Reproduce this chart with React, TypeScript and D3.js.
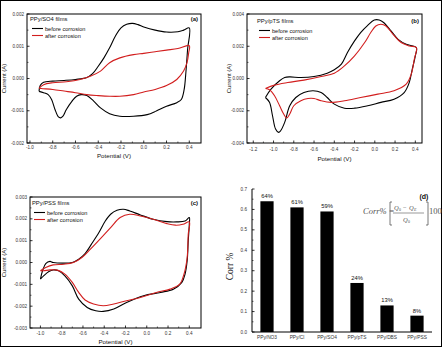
import React from "react";
import * as d3 from "d3";

type P = [number, number];

// ---------- data (potential V, current mA) ----------
const beforeA: P[] = [[-0.92,-0.40],[-0.91,-0.22],[-0.88,-0.12],[-0.8,-0.08],[-0.7,-0.06],[-0.6,-0.03],[-0.5,0.03],[-0.45,0.15],[-0.4,0.38],[-0.35,0.64],[-0.3,0.95],[-0.25,1.31],[-0.2,1.57],[-0.15,1.68],[-0.1,1.71],[-0.05,1.67],[0,1.6],[0.1,1.5],[0.2,1.44],[0.3,1.45],[0.35,1.5],[0.4,1.57],[0.385,0.9],[0.37,0.18],[0.355,-0.34],[0.33,-0.65],[0.29,-0.75],[0.2,-0.86],[0.11,-1.01],[0.03,-1.12],[-0.09,-1.17],[-0.21,-1.17],[-0.3,-1.09],[-0.38,-0.91],[-0.44,-0.7],[-0.5,-0.53],[-0.55,-0.5],[-0.59,-0.55],[-0.63,-0.7],[-0.68,-0.96],[-0.71,-1.17],[-0.73,-1.22],[-0.75,-1.19],[-0.78,-0.96],[-0.81,-0.65],[-0.84,-0.5],[-0.88,-0.44],[-0.92,-0.40]];
const afterA: P[] = [[-0.92,-0.3],[-0.88,-0.19],[-0.8,-0.13],[-0.68,-0.1],[-0.56,-0.03],[-0.47,0.07],[-0.38,0.23],[-0.3,0.49],[-0.21,0.64],[-0.09,0.74],[0,0.78],[0.1,0.83],[0.2,0.88],[0.3,0.93],[0.4,1.02],[0.395,0.8],[0.38,0.49],[0.35,0.23],[0.29,-0.03],[0.2,-0.22],[0.1,-0.34],[0,-0.42],[-0.09,-0.5],[-0.21,-0.55],[-0.3,-0.55],[-0.4,-0.53],[-0.5,-0.5],[-0.6,-0.44],[-0.7,-0.39],[-0.8,-0.34],[-0.9,-0.31],[-0.92,-0.3]];

const beforeB: P[] = [[-1.08,-1.18],[-1.025,-0.66],[-0.94,-0.14],[-0.89,0.06],[-0.84,0.1],[-0.73,0.06],[-0.6,0.12],[-0.47,0.33],[-0.4,0.54],[-0.33,0.89],[-0.27,1.61],[-0.2,2.33],[-0.14,2.85],[-0.07,3.3],[-0.005,3.63],[0.044,3.63],[0.09,3.46],[0.16,2.95],[0.23,2.43],[0.31,2.12],[0.41,1.92],[0.4,1.4],[0.37,0.58],[0.34,-0.25],[0.29,-0.87],[0.19,-1.28],[0.06,-1.48],[-0.07,-1.69],[-0.2,-1.84],[-0.3,-1.84],[-0.4,-1.59],[-0.47,-1.18],[-0.53,-0.87],[-0.61,-0.76],[-0.7,-0.87],[-0.78,-1.18],[-0.84,-1.69],[-0.89,-2.72],[-0.93,-3.24],[-0.95,-3.34],[-0.98,-3.13],[-1.01,-2.31],[-1.04,-1.48],[-1.08,-1.18]];
const afterB: P[] = [[-1.08,-0.62],[-0.99,-0.41],[-0.86,-0.25],[-0.7,-0.1],[-0.53,0.12],[-0.4,0.33],[-0.3,0.78],[-0.2,1.4],[-0.1,2.23],[-0.04,2.85],[0.01,3.26],[0.06,3.36],[0.11,3.26],[0.18,2.74],[0.26,2.23],[0.34,2.02],[0.41,1.92],[0.39,1.2],[0.36,0.27],[0.31,-0.35],[0.19,-0.76],[0.03,-0.97],[-0.14,-1.18],[-0.3,-1.38],[-0.43,-1.48],[-0.53,-1.38],[-0.6,-1.24],[-0.66,-1.24],[-0.73,-1.38],[-0.8,-1.69],[-0.84,-2.2],[-0.87,-2.45],[-0.9,-2.2],[-0.94,-1.69],[-0.99,-1.07],[-1.04,-0.7],[-1.08,-0.62]];

const beforeC: P[] = [[-1.0,-0.76],[-0.98,-0.38],[-0.95,-0.05],[-0.91,0.05],[-0.88,0.0],[-0.78,-0.03],[-0.7,0.0],[-0.64,0.15],[-0.58,0.41],[-0.52,0.84],[-0.45,1.37],[-0.39,1.9],[-0.34,2.21],[-0.28,2.39],[-0.22,2.44],[-0.16,2.36],[-0.06,2.18],[0.06,1.98],[0.19,1.87],[0.28,1.86],[0.36,1.9],[0.4,2.06],[0.4,1.75],[0.39,0.99],[0.38,0.08],[0.36,-0.53],[0.33,-0.91],[0.25,-1.22],[0.13,-1.37],[-0.03,-1.52],[-0.19,-1.83],[-0.31,-2.13],[-0.41,-2.24],[-0.48,-2.21],[-0.56,-2.06],[-0.64,-1.68],[-0.7,-1.07],[-0.77,-0.61],[-0.83,-0.38],[-0.88,-0.34],[-0.92,-0.41],[-0.97,-0.61],[-1.0,-0.76]];
const afterC: P[] = [[-1.0,-0.38],[-0.95,-0.23],[-0.88,-0.11],[-0.78,-0.08],[-0.69,0.0],[-0.61,0.23],[-0.53,0.61],[-0.44,1.07],[-0.34,1.6],[-0.25,2.06],[-0.16,2.21],[-0.06,2.13],[0.06,1.98],[0.19,1.78],[0.27,1.71],[0.34,1.75],[0.4,1.86],[0.39,1.29],[0.38,0.23],[0.35,-0.53],[0.31,-0.99],[0.22,-1.22],[0.09,-1.37],[-0.06,-1.6],[-0.19,-1.75],[-0.31,-1.9],[-0.41,-1.98],[-0.5,-1.9],[-0.58,-1.72],[-0.64,-1.37],[-0.7,-0.91],[-0.77,-0.53],[-0.84,-0.35],[-0.91,-0.34],[-0.97,-0.38],[-1.0,-0.38]];

const xTicksA = [-1.0, -0.8, -0.6, -0.4, -0.2, 0.0, 0.2, 0.4];
const yTicksA = [-2, -1, 0, 1, 2];
const xTicksB = [-1.2, -1.0, -0.8, -0.6, -0.4, -0.2, 0.0, 0.2, 0.4];
const yTicksB = [-4, -2, 0, 2, 4];
const xTicksC = [-1.0, -0.8, -0.6, -0.4, -0.2, 0.0, 0.2, 0.4];
const yTicksC = [-3, -2, -1, 0, 1, 2, 3];

const barCategories = ["PPy/NO3", "PPy/Cl", "PPy/SO4", "PPy/pTS", "PPy/DBS", "PPy/PSS"];
const barValues = [0.64, 0.61, 0.59, 0.24, 0.13, 0.08];
const barLabels = ["64%", "61%", "59%", "24%", "13%", "8%"];
const barYTicks = [0, 0.1, 0.2, 0.3, 0.4, 0.5, 0.6, 0.7];

const legendLabels = ["before corrosion", "after corrosion"];
const RED = "#d21e1e";
const FONT = "Liberation Sans, Arial, sans-serif";

const fmtY = (t: number) => (t / 1000).toFixed(3).replace("\u2212", "-");
const fmtX = (t: number) => t.toFixed(1);

type CVProps = {
  x0: number; x1: number; y0: number; y1: number;
  xDomain: [number, number]; yDomain: [number, number];
  xTicks: number[]; yTicks: number[];
  before: P[]; after: P[];
  title: string; tag: string;
  titleY: number; xLabelDy: number; xTitleY: number; yTitleX: number;
  legX: number; legY: number;
};

function CVPanel(p: CVProps) {
  const x = d3.scaleLinear().domain(p.xDomain).range([p.x0, p.x1]);
  const y = d3.scaleLinear().domain(p.yDomain).range([p.y1, p.y0]);
  const line = d3.line<P>().x(d => x(d[0])).y(d => y(d[1])).curve(d3.curveCatmullRom.alpha(0.5));
  const xMinor: number[] = [];
  for (let i = 0; i < p.xTicks.length - 1; i++) xMinor.push((p.xTicks[i] + p.xTicks[i + 1]) / 2);
  const yMinor: number[] = [];
  for (let i = 0; i < p.yTicks.length - 1; i++) yMinor.push((p.yTicks[i] + p.yTicks[i + 1]) / 2);
  const cx = (p.x0 + p.x1) / 2;
  const cy = (p.y0 + p.y1) / 2;
  return (
    <g fontFamily={FONT}>
      <rect x={p.x0} y={p.y0} width={p.x1 - p.x0} height={p.y1 - p.y0} fill="none" stroke="#000" strokeWidth={1} />
      {p.xTicks.map(t => (
        <g key={"xt" + t}>
          <line x1={x(t)} x2={x(t)} y1={p.y1} y2={p.y1 - 2.5} stroke="#000" strokeWidth={0.8} />
          <text x={x(t)} y={p.y1 + p.xLabelDy} fontSize={4.6} textAnchor="middle" fill="#333">{fmtX(t)}</text>
        </g>
      ))}
      {xMinor.map(t => <line key={"xm" + t} x1={x(t)} x2={x(t)} y1={p.y1} y2={p.y1 - 1.5} stroke="#000" strokeWidth={0.6} />)}
      {p.yTicks.map(t => (
        <g key={"yt" + t}>
          <line x1={p.x0} x2={p.x0 + 2.5} y1={y(t)} y2={y(t)} stroke="#000" strokeWidth={0.8} />
          <text x={p.x0 - 3} y={y(t) + 1.6} fontSize={4.6} textAnchor="end" fill="#333">{fmtY(t)}</text>
        </g>
      ))}
      {yMinor.map(t => <line key={"ym" + t} x1={p.x0} x2={p.x0 + 1.5} y1={y(t)} y2={y(t)} stroke="#000" strokeWidth={0.6} />)}
      <path d={line(p.before) || ""} fill="none" stroke="#000" strokeWidth={1.1} />
      <path d={line(p.after) || ""} fill="none" stroke={RED} strokeWidth={1.1} />
      <text x={p.legX} y={p.legY} fontSize={5.8} fill="#111">{p.title}</text>
      {legendLabels.map((l, i) => (
        <g key={l}>
          <line x1={p.legX + 2} x2={p.legX + 13} y1={p.legY + 7.5 + i * 7} y2={p.legY + 7.5 + i * 7} stroke={i === 0 ? "#000" : RED} strokeWidth={1.1} />
          <text x={p.legX + 15} y={p.legY + 9.5 + i * 7} fontSize={5.6} fill="#111">{l}</text>
        </g>
      ))}
      <text x={p.x1 - 3} y={p.legY} fontSize={6} fontWeight="bold" textAnchor="end" fill="#111">{p.tag}</text>
      <text x={cx} y={p.xTitleY} fontSize={6.2} textAnchor="middle" fill="#111">Potential (V)</text>
      <text transform={`translate(${p.yTitleX},${cy}) rotate(-90)`} fontSize={6} textAnchor="middle" fill="#111">Current (A)</text>
    </g>
  );
}

function BarPanel() {
  const x0 = 252, x1 = 432, y0 = 189, y1 = 332;
  const x = d3.scaleBand<string>().domain(barCategories).range([x0, x1]).paddingInner(0.56).paddingOuter(0.28);
  const y = d3.scaleLinear().domain([0, 0.7]).range([y1, y0]);
  const yMinor = barYTicks.slice(0, -1).map(t => t + 0.05);
  return (
    <g fontFamily={FONT}>
      {barCategories.map((c, i) => (
        <g key={c}>
          <rect x={x(c)} y={y(barValues[i])} width={x.bandwidth()} height={y(0) - y(barValues[i])} fill="#000" />
          <text x={(x(c) || 0) + x.bandwidth() / 2} y={y(barValues[i]) - 3} fontSize={5.8} textAnchor="middle" fill="#111">{barLabels[i]}</text>
          <text x={(x(c) || 0) + x.bandwidth() / 2} y={y1 + 7} fontSize={4.8} textAnchor="middle" fill="#333">{c}</text>
        </g>
      ))}
      <line x1={x0} x2={x0} y1={y0} y2={y1} stroke="#000" strokeWidth={1} />
      <line x1={x0} x2={x1} y1={y1} y2={y1} stroke="#000" strokeWidth={1} />
      {barYTicks.map(t => (
        <g key={"bt" + t}>
          <line x1={x0} x2={x0 + 2.5} y1={y(t)} y2={y(t)} stroke="#000" strokeWidth={0.8} />
          <text x={x0 - 5} y={y(t) + 1.6} fontSize={4.6} textAnchor="end" fill="#333">{t.toFixed(1)}</text>
        </g>
      ))}
      {yMinor.map(t => <line key={"bm" + t} x1={x0} x2={x0 + 1.5} y1={y(t)} y2={y(t)} stroke="#000" strokeWidth={0.6} />)}
      <text transform={`translate(233,${(y0 + y1) / 2 + 6}) rotate(-90)`} fontSize={9.5} fontFamily="Liberation Serif, Times New Roman, serif" textAnchor="middle" fill="#111">Corr %</text>
      <g fontFamily="Liberation Serif, Times New Roman, serif" fill="#555">
        <text x={363} y={214} fontSize={8.5} fontStyle="italic">Corr% =</text>
        <path d="M392,202 L390,202 L390,225 L392,225" fill="none" stroke="#555" strokeWidth={0.8} />
        <path d="M426,202 L428,202 L428,225 L426,225" fill="none" stroke="#555" strokeWidth={0.8} />
        <text x={394} y={209.5} fontSize={6.5} fontStyle="italic">Q</text>
        <text x={399} y={210.5} fontSize={4}>0</text>
        <text x={403} y={209.5} fontSize={6.5}>−</text>
        <text x={409} y={209.5} fontSize={6.5} fontStyle="italic">Q</text>
        <text x={414} y={210.5} fontSize={4} fontStyle="italic">E</text>
        <line x1={393} x2={424} y1={213} y2={213} stroke="#555" strokeWidth={0.6} />
        <text x={403} y={221.5} fontSize={6.5} fontStyle="italic">Q</text>
        <text x={408} y={222.5} fontSize={4}>0</text>
        <text x={429} y={214} fontSize={8.5}>100</text>
      </g>
      <text x={424} y={199} fontSize={7} fontWeight="bold" textAnchor="middle" fill="#111">(d)</text>
    </g>
  );
}

export default function App() {
  return (
    <svg width={443} height={348} style={{ position: "absolute", left: 0, top: 0, background: "#fff" }}>
      <rect x={0} y={0} width={443} height={348} fill="#fff" />
      <rect x={0.5} y={0.5} width={441} height={346} fill="none" stroke="#000" strokeWidth={1} />
      <CVPanel x0={27} x1={201} y0={14} y1={143} xDomain={[-1.026, 0.503]} yDomain={[-2, 2]}
        xTicks={xTicksA} yTicks={yTicksA} before={beforeA} after={afterA}
        title="PPy/SO4 films" tag="(a)" titleY={0} xLabelDy={5.5} xTitleY={158} yTitleX={6}
        legX={30} legY={21} />
      <CVPanel x0={247} x1={422} y0={14} y1={143} xDomain={[-1.262, 0.466]} yDomain={[-4, 4]}
        xTicks={xTicksB} yTicks={yTicksB} before={beforeB} after={afterB}
        title="PPy/pTS films" tag="(b)" titleY={0} xLabelDy={7.5} xTitleY={161} yTitleX={231}
        legX={257} legY={23} />
      <CVPanel x0={30} x1={201} y0={197} y1={328} xDomain={[-1.098, 0.51]} yDomain={[-3, 3]}
        xTicks={xTicksC} yTicks={yTicksC} before={beforeC} after={afterC}
        title="PPy/PSS films" tag="(c)" titleY={0} xLabelDy={7} xTitleY={344} yTitleX={6}
        legX={32} legY={205} />
      <BarPanel />
    </svg>
  );
}
